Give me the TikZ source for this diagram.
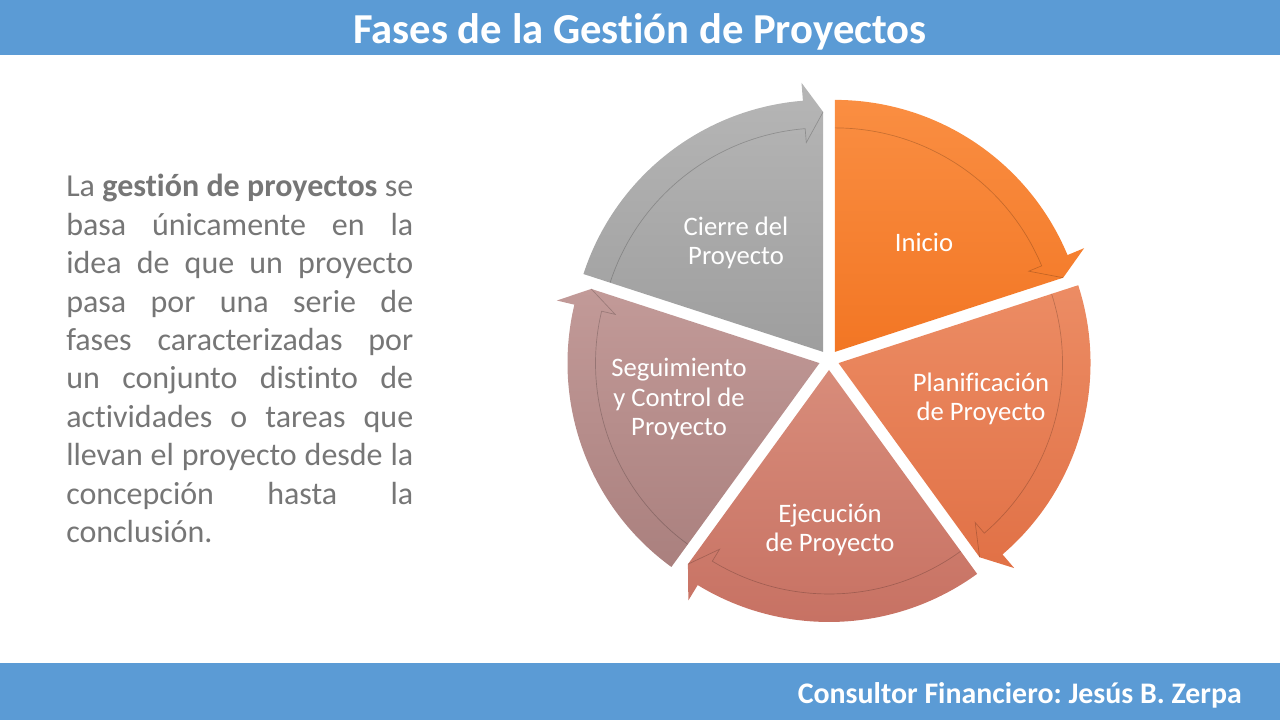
\documentclass[tikz,border=0pt]{standalone}
\usepackage{fontspec}
\setmainfont{Carlito}[Ligatures=NoCommon]
\usetikzlibrary{positioning}
\frenchspacing

\definecolor{barblue}{RGB}{91,155,213}
\definecolor{bodygray}{RGB}{118,118,118}

\begin{document}
\begin{tikzpicture}[x=0.75pt, y=0.75pt,
  bar/.style={fill=barblue, draw=none},
  phase/.style={font=\fontsize{20}{22}\selectfont, text=white, align=center},
  rim/.style={draw=black, draw opacity=0.2, line width=0.5pt},
  inicio/.style={top color={rgb,255:red,250;green,142;blue,66}, bottom color={rgb,255:red,242;green,118;blue,36}},
  plan/.style={top color={rgb,255:red,236;green,140;blue,100}, bottom color={rgb,255:red,225;green,113;blue,70}},
  ejec/.style={top color={rgb,255:red,216;green,140;blue,122}, bottom color={rgb,255:red,198;green,112;blue,98}},
  segu/.style={top color={rgb,255:red,194;green,154;blue,152}, bottom color={rgb,255:red,170;green,128;blue,126}},
  cierre/.style={top color={rgb,255:red,182;green,182;blue,182}, bottom color={rgb,255:red,158;green,158;blue,158}}
]
\useasboundingbox (0,0) rectangle (1280,720);

% bars
\fill[bar] (0,665) rectangle (1280,720);
\fill[bar] (0,0) rectangle (1280,57);
\node[font=\fontsize{32}{36}\selectfont\bfseries, text=white] (title) at (640,688) {Fases de la Gestión de Proyectos};
\node[font=\fontsize{22.4}{26}\selectfont\bfseries, text=white, anchor=east, inner sep=0] (footer) at (1242,25) {Consultor Financiero: Jesús B. Zerpa};

% text
\node[anchor=base west, inner sep=0, text width=260.25pt, align=justify, text=bodygray,
  font=\fontsize{24}{28.8}\selectfont] (intro) at (66,523)
  {La \textbf{gestión de proyectos} se\linebreak
   basa únicamente en la\linebreak
   idea de que un proyecto\linebreak
   pasa por una serie de\linebreak
   fases caracterizadas por\linebreak
   un conjunto distinto de\linebreak
   actividades o tareas que\linebreak
   llevan el proyecto desde la\linebreak
   concepción hasta la\linebreak
   conclusión.};

% segments
\shade[inicio, shift={(834.88,368.09)}] (0,0) -- (90:252) arc[start angle=90, end angle=22.6, radius=252] -- (22.6:270) -- (18:240) -- cycle;
\draw[rim, shift={(834.88,368.09)}] (90:224) arc[start angle=90, end angle=22.6, radius=224] -- (22.6:210) -- (18:240);

\shade[plan, shift={(838.51,356.91)}] (0,0) -- (18:252) arc[start angle=18, end angle=-49.4, radius=252] -- (-49.4:270) -- (-54:240) -- cycle;
\draw[rim, shift={(838.51,356.91)}] (18:224) arc[start angle=18, end angle=-49.4, radius=224] -- (-49.4:210) -- (-54:240);

\shade[ejec, shift={(829,350)}] (0,0) -- (-54:252) arc[start angle=-54, end angle=-121.4, radius=252] -- (-121.4:270) -- (-126:240) -- cycle;
\draw[rim, shift={(829,350)}] (-54:224) arc[start angle=-54, end angle=-121.4, radius=224] -- (-121.4:210) -- (-126:240);

\shade[segu, shift={(819.49,356.91)}] (0,0) -- (234:252) arc[start angle=234, end angle=166.6, radius=252] -- (166.6:270) -- (162:240) -- cycle;
\draw[rim, shift={(819.49,356.91)}] (234:224) arc[start angle=234, end angle=166.6, radius=224] -- (166.6:210) -- (162:240);

\shade[cierre, shift={(823.12,368.09)}] (0,0) -- (162:252) arc[start angle=162, end angle=94.6, radius=252] -- (94.6:270) -- (90:240) -- cycle;
\draw[rim, shift={(823.12,368.09)}] (162:224) arc[start angle=162, end angle=94.6, radius=224] -- (94.6:210) -- (90:240);

% labels
\node[phase] (inicio) at (924,478) {Inicio};
\node[phase] (plan) at (981,321) {Planificación\\de Proyecto};
\node[phase] (ejec) at (830,190) {Ejecución\\de Proyecto};
\node[phase] (segu) at (679,321) {Seguimiento\\y Control de\\Proyecto};
\node[phase] (cierre) at (736,477) {Cierre del\\Proyecto};

\end{tikzpicture}
\end{document}
